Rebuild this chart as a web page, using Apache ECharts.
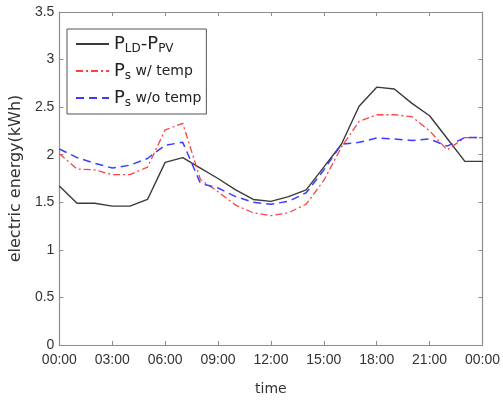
<!DOCTYPE html>
<html><head><meta charset="utf-8">
<script src="https://cdn.jsdelivr.net/npm/echarts@6/dist/echarts.min.js"></script>
<style>html,body{margin:0;padding:0;background:#fff}#c{width:503px;height:401px}</style>
</head><body><div id="c"></div>
<script>
const hours = [0,1,2,3,4,5,6,7,8,9,10,11,12,13,14,15,16,17,18,19,20,21,22,23,24];
const xTickLabels = ['00:00','03:00','06:00','09:00','12:00','15:00','18:00','21:00','00:00'];
const seriesNames = ['PLD-PPV','Ps w/ temp','Ps w/o temp'];
const pLdPv    = [1.67,1.49,1.49,1.46,1.46,1.53,1.92,1.97,1.86,1.75,1.63,1.53,1.51,1.56,1.63,1.87,2.11,2.51,2.71,2.69,2.54,2.41,2.17,1.93,1.93];
const pSTemp   = [2.01,1.85,1.84,1.79,1.79,1.87,2.26,2.33,1.74,1.61,1.47,1.39,1.36,1.39,1.48,1.73,2.08,2.35,2.42,2.42,2.40,2.25,2.05,2.18,2.18];
const pSNoTemp = [2.06,1.97,1.91,1.86,1.89,1.96,2.10,2.13,1.70,1.65,1.56,1.50,1.48,1.51,1.60,1.84,2.11,2.13,2.175,2.165,2.15,2.165,2.09,2.18,2.18];

const font = '"Liberation Sans", Arial, sans-serif';
const wide = '"DejaVu Sans", sans-serif';
const frame = '#8c8c8c';
const txt = '#333';
const pairs = arr => hours.map((h, i) => [h, arr[i]]);

const chart = echarts.init(document.getElementById('c'));
const baseX = {type:'value', min:0, max:24, interval:3, splitLine:{show:false},
  axisLine:{show:true, onZero:false, lineStyle:{color:frame, width:1.2}},
  axisTick:{show:true, inside:true, length:4, lineStyle:{color:frame}}};
const baseY = {type:'value', min:0, max:3.5, interval:0.5, splitLine:{show:false},
  axisLine:{show:true, onZero:false, lineStyle:{color:frame, width:1.2}},
  axisTick:{show:true, inside:true, length:4, lineStyle:{color:frame}}};

chart.setOption({
  animation:false,
  textStyle:{fontFamily:font},
  grid:{left:54, right:19, top:12, bottom:49},
  xAxis:[
    Object.assign({}, baseX, {position:'bottom',
      axisLabel:{fontSize:14, color:txt, margin:8, fontFamily:font,
        formatter: v => xTickLabels[Math.round(v/3)]},
      name:'time', nameLocation:'middle', nameGap:37,
      nameTextStyle:{fontSize:14, color:txt, fontFamily:wide}}),
    Object.assign({}, baseX, {position:'top', axisLabel:{show:false}})
  ],
  yAxis:[
    Object.assign({}, baseY, {position:'left',
      axisLabel:{fontSize:14, color:txt, margin:5, fontFamily:font},
      name:'electric energy(kWh)', nameLocation:'middle', nameGap:29,
      nameTextStyle:{fontSize:16, color:txt, fontFamily:wide}}),
    Object.assign({}, baseY, {position:'right', axisLabel:{show:false}})
  ],
  legend:{
    orient:'vertical', left:67, top:29,
    data:seriesNames,
    borderColor:'#555', borderWidth:1, backgroundColor:'#fff',
    padding:[6,5,5,8], itemGap:7, itemWidth:33, itemHeight:14,
    itemStyle:{opacity:0},
    formatter: name => ({
      'PLD-PPV':'{p|P}{s|LD}{p|-P}{s|PV}',
      'Ps w/ temp':'{p|P}{s|s}{t| w/ temp}',
      'Ps w/o temp':'{p|P}{s|s}{t| w/o temp}'
    })[name],
    textStyle:{rich:{
      p:{fontSize:18, color:'#222', fontFamily:wide},
      s:{fontSize:12, color:'#222', fontFamily:wide, padding:[10,0,0,0]},
      t:{fontSize:14, color:'#222', fontFamily:wide}
    }}
  },
  series:[
    {name:seriesNames[0], type:'line', data:pairs(pLdPv), symbol:'none',
     lineStyle:{color:'#3a3a3a', width:1.4, type:'solid'}, itemStyle:{color:'#3a3a3a'}},
    {name:seriesNames[1], type:'line', data:pairs(pSTemp), symbol:'none',
     lineStyle:{color:'#ff4040', width:1.3, type:[7,3,2,3]}, itemStyle:{color:'#ff4040'}},
    {name:seriesNames[2], type:'line', data:pairs(pSNoTemp), symbol:'none',
     lineStyle:{color:'#3c3cff', width:1.5, type:[8,5]}, itemStyle:{color:'#3c3cff'}}
  ]
});
</script></body></html>
